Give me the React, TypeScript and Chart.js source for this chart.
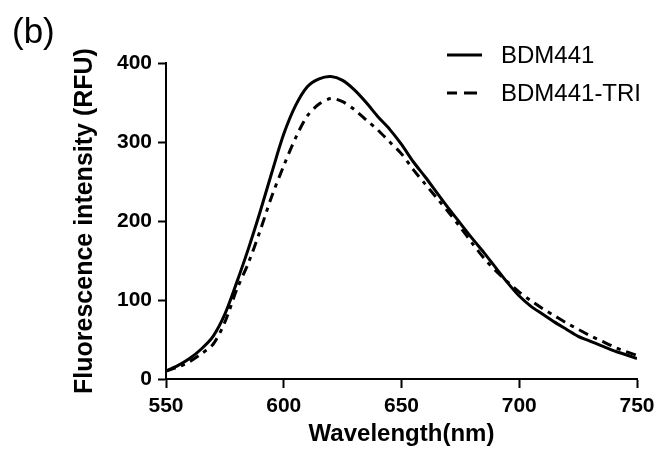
import React, { useEffect, useRef } from 'react';
import { Chart, registerables } from 'chart.js';

Chart.register(...registerables);

const wavelengths = [550, 555, 560, 565, 570, 575, 580, 585, 590, 595, 600, 605, 610, 615, 620, 625, 630, 635, 640, 645, 650, 655, 660, 665, 670, 675, 680, 685, 690, 695, 700, 705, 710, 715, 720, 725, 730, 735, 740, 745, 750];
const bdm441 = [10, 17, 26, 38, 54, 82, 122, 165, 212, 262, 310, 346, 370, 380, 383, 378, 366, 350, 332, 316, 297, 275, 256, 236, 216, 197, 178, 160, 141, 122, 105, 92, 82, 72, 63, 54, 48, 42, 36, 31, 26];
const bdm441Tri = [10, 15, 22, 32, 44, 72, 113, 147, 188, 232, 270, 305, 333, 348, 355, 351, 341, 328, 315, 300, 285, 265, 247, 229, 211, 192, 172, 153, 137, 123, 110, 99, 89, 80, 71, 63, 55, 48, 41, 35, 30];
const seriesNames = ['BDM441', 'BDM441-TRI'];
const xTitle = 'Wavelength(nm)';
const yTitle = 'Fluorescence intensity (RFU)';
const panelLabel = '(b)';

const FONT = '"Liberation Sans", Arial, sans-serif';

const overlayPlugin = {
  id: 'overlay',
  afterDraw(chart: any) {
    const ctx = chart.ctx;
    ctx.save();
    ctx.fillStyle = '#000';
    ctx.textBaseline = 'alphabetic';
    ctx.textAlign = 'left';
    ctx.font = `35px ${FONT}`;
    ctx.fillText(panelLabel, 12, 43);

    const rows = [55, 93];
    chart.data.datasets.forEach((ds: any, i: number) => {
      const y = rows[i];
      ctx.strokeStyle = '#000';
      ctx.lineWidth = 3;
      ctx.setLineDash(i === 0 ? [] : [10, 7, 13, 7]);
      ctx.beginPath();
      ctx.moveTo(447, y);
      ctx.lineTo(482, y);
      ctx.stroke();
      ctx.setLineDash([]);
      ctx.font = `24px ${FONT}`;
      ctx.textBaseline = 'middle';
      ctx.fillText(ds.label, 501, y + 1);
    });
    ctx.restore();
  },
};

export default function App() {
  const ref = useRef<HTMLCanvasElement | null>(null);

  useEffect(() => {
    if (!ref.current) return;
    const tickFont = { family: FONT, size: 21, weight: 'bold' as const };
    const titleFont = { family: FONT, size: 24, weight: 'bold' as const };
    const chart = new Chart(ref.current, {
      type: 'line',
      data: {
        datasets: [
          {
            label: seriesNames[0],
            data: wavelengths.map((w, i) => ({ x: w, y: bdm441[i] })),
            borderColor: '#000',
            borderWidth: 3,
            pointRadius: 0,
            tension: 0.3,
            fill: false,
          },
          {
            label: seriesNames[1],
            data: wavelengths.map((w, i) => ({ x: w, y: bdm441Tri[i] })),
            borderColor: '#000',
            borderWidth: 3,
            borderDash: [10, 6, 4, 6],
            pointRadius: 0,
            tension: 0.3,
            fill: false,
          },
        ],
      },
      options: {
        responsive: false,
        animation: false,
        layout: { padding: { top: 63, right: 21, left: 0, bottom: 0 } },
        plugins: { legend: { display: false }, tooltip: { enabled: false }, title: { display: false } },
        scales: {
          x: {
            type: 'linear',
            min: 550,
            max: 750,
            ticks: { stepSize: 50, color: '#000', font: tickFont, padding: 6, maxRotation: 0 },
            grid: { display: true, drawOnChartArea: false, drawTicks: true, tickLength: 9, tickWidth: 2, tickColor: '#000', color: '#000' },
            border: { display: true, color: '#000', width: 2 },
            title: { display: true, text: xTitle, color: '#000', font: titleFont, padding: { top: 0, bottom: 5 } },
            afterFit: (s: any) => { s.height = 75; s.paddingRight = 10; s.paddingLeft = 10; },
          },
          y: {
            type: 'linear',
            min: 0,
            max: 400,
            ticks: { stepSize: 100, color: '#000', font: tickFont, padding: 6 },
            grid: { display: true, drawOnChartArea: false, drawTicks: true, tickLength: 8, tickWidth: 2, tickColor: '#000', color: '#000' },
            border: { display: true, color: '#000', width: 2 },
            title: { display: true, text: yTitle, color: '#000', font: { family: FONT, size: 25, weight: 'bold' }, padding: { top: 70, bottom: 0 } },
            afterFit: (s: any) => { s.width = 166; },
          },
        },
      },
      plugins: [overlayPlugin],
    });
    return () => chart.destroy();
  }, []);

  return (
    <div style={{ position: 'absolute', left: 0, top: 0, width: 658, height: 454, background: '#fff' }}>
      <canvas ref={ref} width={658} height={454} style={{ width: 658, height: 454, display: 'block' }} />
    </div>
  );
}
